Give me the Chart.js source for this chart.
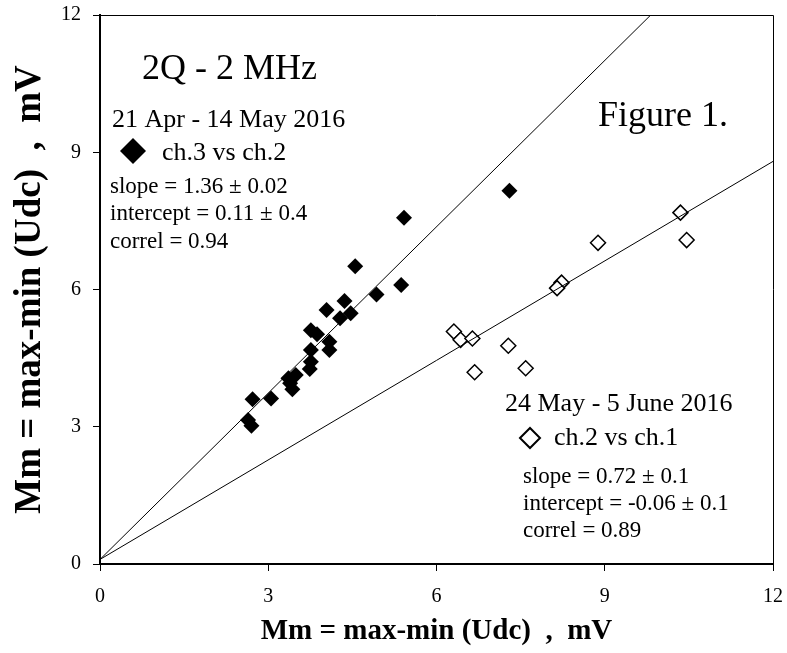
<!DOCTYPE html>
<html>
<head>
<meta charset="utf-8">
<script src="https://cdn.jsdelivr.net/npm/chart.js@4"></script>
<style>
  html, body { margin: 0; padding: 0; background: #fff; }
  #wrap { width: 787px; height: 653px; }
</style>
</head>
<body>
<div id="wrap"><canvas id="chart" width="787" height="653"></canvas></div>
<script>
// ch.3 vs ch.2 (21 Apr - 14 May 2016), filled diamonds
const ch3X = [7.30, 5.42, 4.55, 5.37, 4.93, 4.36, 4.04, 4.47, 4.28, 3.76, 3.87, 4.09, 4.09, 3.76, 3.76, 3.74, 3.49, 3.36, 3.43, 3.39, 3.05, 2.72, 2.64, 2.70];
const ch3Y = [8.16, 7.57, 6.51, 6.10, 5.89, 5.75, 5.55, 5.48, 5.37, 5.11, 5.02, 4.86, 4.68, 4.68, 4.42, 4.26, 4.13, 4.06, 3.82, 3.95, 3.62, 3.60, 3.15, 3.02];

// ch.2 vs ch.1 (24 May - 5 June 2016), open diamonds
const ch2X = [10.35, 10.46, 8.88, 8.23, 8.15, 6.31, 6.43, 6.64, 7.28, 6.68, 7.59];
const ch2Y = [7.68, 7.08, 7.02, 6.15, 6.03, 5.08, 4.90, 4.93, 4.77, 4.19, 4.28];

// fitted lines as drawn (end points)
const fitAX = [0, 9.82];
const fitAY = [0.1, 12];
const fitBX = [0, 12];
const fitBY = [0.1, 8.8];

const axisTicks = [0, 3, 6, 9, 12];
const axisTitle = 'Mm = max-min (Udc)  ,  mV';

const textA = ['21 Apr - 14 May 2016', 'ch.3 vs ch.2', 'slope = 1.36 \u00b1 0.02', 'intercept = 0.11 \u00b1 0.4', 'correl = 0.94'];
const textB = ['24 May - 5 June 2016', 'ch.2 vs ch.1', 'slope = 0.72 \u00b1 0.1', 'intercept = -0.06 \u00b1 0.1', 'correl = 0.89'];

const SERIF = '"Liberation Serif", "Times New Roman", serif';

function toPoints(xs, ys) {
    return xs.map((x, i) => ({ x: x, y: ys[i] }));
}

function diamond(ctx, x, y, r, filled) {
    ctx.beginPath();
    ctx.moveTo(x - r, y);
    ctx.lineTo(x, y - r);
    ctx.lineTo(x + r, y);
    ctx.lineTo(x, y + r);
    ctx.closePath();
    if (filled) {
        ctx.fillStyle = '#000';
        ctx.fill();
    } else {
        ctx.fillStyle = '#fff';
        ctx.fill();
        ctx.lineWidth = 2;
        ctx.strokeStyle = '#000';
        ctx.stroke();
    }
}

// frame (top/right) and annotation texts
const annotations = {
    id: 'annotations',
    afterDraw(chart) {
        const ctx = chart.ctx;
        const a = chart.chartArea;
        ctx.save();
        ctx.strokeStyle = '#000';
        ctx.lineWidth = 1;
        ctx.beginPath();
        ctx.moveTo(a.left, a.top + 0.5);
        ctx.lineTo(a.right + 0.5, a.top + 0.5);
        ctx.lineTo(a.right + 0.5, a.bottom);
        ctx.stroke();

        ctx.fillStyle = '#000';
        ctx.textBaseline = 'alphabetic';
        ctx.textAlign = 'left';

        ctx.font = '36px ' + SERIF;
        ctx.fillText('2Q - 2 MHz', 142, 79);
        ctx.fillText('Figure 1.', 598, 126);

        ctx.font = '26px ' + SERIF;
        ctx.fillText(textA[0], 112, 127);
        ctx.fillText(textA[1], 162, 160);
        diamond(ctx, 133, 151, 13, true);
        ctx.font = '23px ' + SERIF;
        ctx.fillText(textA[2], 110, 193);
        ctx.fillText(textA[3], 110, 220);
        ctx.fillText(textA[4], 110, 248);

        ctx.font = '26px ' + SERIF;
        ctx.fillStyle = '#000';
        ctx.fillText(textB[0], 505, 411);
        ctx.fillText(textB[1], 554, 445);
        diamond(ctx, 530, 438, 10, false);
        ctx.fillStyle = '#000';
        ctx.font = '23px ' + SERIF;
        ctx.fillText(textB[2], 523, 483);
        ctx.fillText(textB[3], 523, 510);
        ctx.fillText(textB[4], 523, 537);
        ctx.restore();
    }
};

const ctx = document.getElementById('chart').getContext('2d');
new Chart(ctx, {
    type: 'scatter',
    data: {
        datasets: [
            {
                label: 'fit ch.3 vs ch.2',
                type: 'line',
                data: toPoints(fitAX, fitAY),
                borderColor: '#000',
                borderWidth: 1,
                pointRadius: 0,
                fill: false
            },
            {
                label: 'fit ch.2 vs ch.1',
                type: 'line',
                data: toPoints(fitBX, fitBY),
                borderColor: '#000',
                borderWidth: 1,
                pointRadius: 0,
                fill: false
            },
            {
                label: 'ch.3 vs ch.2',
                data: toPoints(ch3X, ch3Y),
                pointStyle: 'rectRot',
                pointRadius: 8,
                backgroundColor: '#000',
                borderColor: '#000',
                borderWidth: 0
            },
            {
                label: 'ch.2 vs ch.1',
                data: toPoints(ch2X, ch2Y),
                pointStyle: 'rectRot',
                pointRadius: 7.5,
                backgroundColor: '#fff',
                borderColor: '#000',
                borderWidth: 1.5
            }
        ]
    },
    options: {
        responsive: false,
        animation: false,
        layout: { padding: { top: 15, right: 14, left: 0, bottom: 0 } },
        plugins: {
            legend: { display: false },
            tooltip: { enabled: false }
        },
        scales: {
            x: {
                type: 'linear',
                min: 0,
                max: 12,
                afterBuildTicks: s => { s.ticks = axisTicks.map(v => ({ value: v })); },
                afterFit: s => { s.height = 89; s.paddingLeft = 0; s.paddingRight = 0; },
                border: { color: '#000', width: 2 },
                grid: { drawOnChartArea: false, drawTicks: true, tickLength: 7, color: '#000', lineWidth: 1 },
                ticks: { color: '#000', padding: 14, font: { family: SERIF, size: 20 } },
                title: {
                    display: true,
                    text: axisTitle,
                    color: '#000',
                    padding: { top: 0, bottom: 4 },
                    font: { family: SERIF, size: 29, weight: 'bold' }
                }
            },
            y: {
                type: 'linear',
                min: 0,
                max: 12,
                afterBuildTicks: s => { s.ticks = axisTicks.map(v => ({ value: v })); },
                afterFit: s => { s.width = 100; s.paddingTop = 0; s.paddingBottom = 0; },
                border: { color: '#000', width: 2 },
                grid: { drawOnChartArea: false, drawTicks: true, tickLength: 7, color: '#000', lineWidth: 1 },
                ticks: { color: '#000', padding: 12, font: { family: SERIF, size: 20 } },
                title: {
                    display: true,
                    text: axisTitle,
                    color: '#000',
                    padding: { top: 8, bottom: 0 },
                    font: { family: SERIF, size: 37, weight: 'bold' }
                }
            }
        }
    },
    plugins: [annotations]
});
</script>
</body>
</html>
